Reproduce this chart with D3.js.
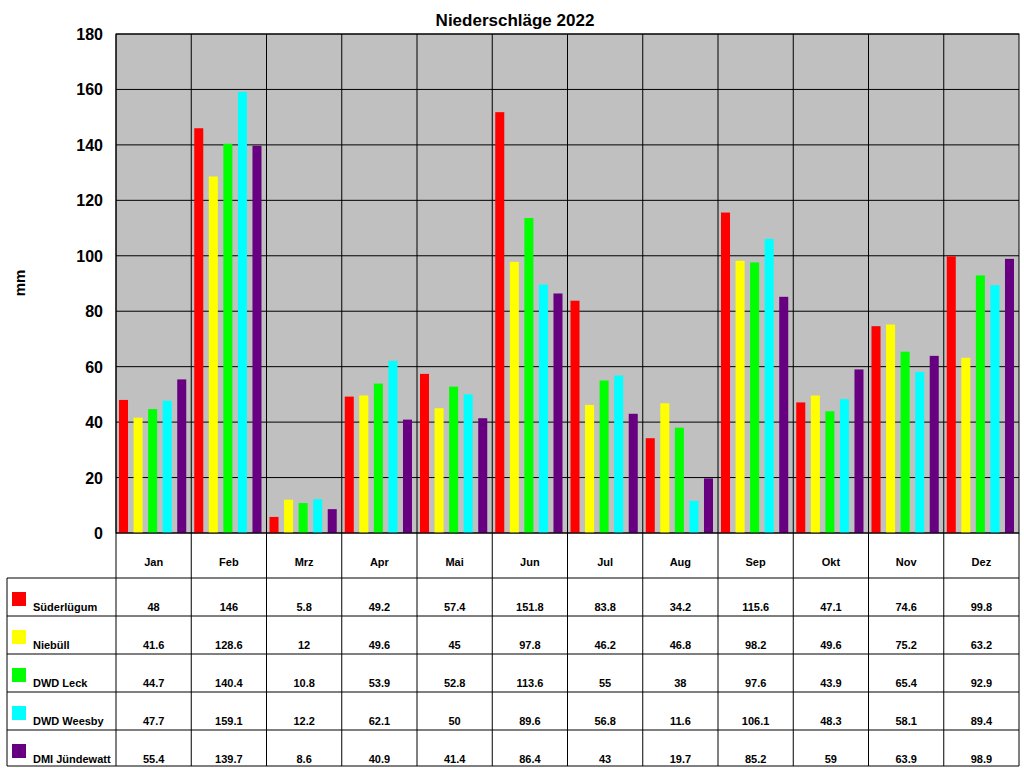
<!DOCTYPE html>
<html><head><meta charset="utf-8">
<script src="https://cdn.jsdelivr.net/npm/d3@7"></script>
<style>body{margin:0;background:#fff;font-family:Arial,"Liberation Sans",sans-serif}</style>
</head><body>
<script>
// data
var months = ['Jan','Feb','Mrz','Apr','Mai','Jun','Jul','Aug','Sep','Okt','Nov','Dez'];
var seriesNames = ['Süderlügum','Niebüll','DWD Leck','DWD Weesby','DMI Jündewatt'];
var seriesColors = ['#ff0000','#ffff00','#00ff00','#00ffff','#660080'];
var suederluegum = [48,146,5.8,49.2,57.4,151.8,83.8,34.2,115.6,47.1,74.6,99.8];
var niebuell = [41.6,128.6,12,49.6,45,97.8,46.2,46.8,98.2,49.6,75.2,63.2];
var dwdLeck = [44.7,140.4,10.8,53.9,52.8,113.6,55,38,97.6,43.9,65.4,92.9];
var dwdWeesby = [47.7,159.1,12.2,62.1,50,89.6,56.8,11.6,106.1,48.3,58.1,89.4];
var dmiJuendewatt = [55.4,139.7,8.6,40.9,41.4,86.4,43,19.7,85.2,59,63.9,98.9];
var yTicks = [0,20,40,60,80,100,120,140,160,180];
var allSeries = [suederluegum, niebuell, dwdLeck, dwdWeesby, dmiJuendewatt];

(function () {
var svg = d3.select('body').append('svg').attr('width',1024).attr('height',768);
var pLeft = 116, pRight = 1019, pTop = 34, pBottom = 533;

var x = d3.scaleBand().domain(months).range([pLeft,pRight]);
var y = d3.scaleLinear().domain([0,180]).range([pBottom,pTop]);
var xs = d3.scaleBand().domain(d3.range(5)).range([3,x.bandwidth()-5]).paddingInner(0.38);

svg.append('rect').attr('x',pLeft).attr('y',pTop).attr('width',pRight-pLeft).attr('height',pBottom-pTop).attr('fill','#c0c0c0');

svg.selectAll('.grid').data(yTicks).enter().append('line')
    .attr('x1',pLeft).attr('x2',pRight)
    .attr('y1',function (d) { return y(d); }).attr('y2',function (d) { return y(d); })
    .attr('stroke','#000').attr('stroke-width',1);
svg.selectAll('.vgrid').data(months).enter().append('line')
    .attr('x1',function (d) { return x(d); }).attr('x2',function (d) { return x(d); })
    .attr('y1',pTop).attr('y2',pBottom).attr('stroke','#000');

allSeries.forEach(function (vals, s) {
    svg.selectAll('.bar'+s).data(vals).enter().append('rect')
        .attr('x',function (d,i) { return x(months[i]) + xs(s); })
        .attr('width',xs.bandwidth())
        .attr('y',function (d) { return y(d); })
        .attr('height',function (d) { return pBottom - y(d); })
        .attr('fill',seriesColors[s]);
});

svg.append('rect').attr('x',pLeft).attr('y',pTop).attr('width',pRight-pLeft).attr('height',pBottom-pTop)
    .attr('fill','none').attr('stroke','#000');

svg.selectAll('.ytick').data(yTicks).enter().append('text')
    .attr('x',103).attr('y',function (d) { return y(d) + 6; })
    .attr('text-anchor','end').attr('font-size',16).attr('font-weight','bold').text(function (d) { return d; });

svg.append('text').attr('transform','translate(25,283) rotate(-90)').attr('text-anchor','middle')
    .attr('font-size',15).attr('font-weight','bold').text('mm');
svg.append('text').attr('x',515).attr('y',26).attr('text-anchor','middle')
    .attr('font-size',17).attr('font-weight','bold').text('Niederschläge 2022');

// table
var rowTop = [578,616,654,692,730], tblBottom = 766;
svg.selectAll('.hdr').data(months).enter().append('text')
    .attr('x',function (d) { return x(d) + x.bandwidth()/2; }).attr('y',566)
    .attr('text-anchor','middle').attr('font-size',11).attr('font-weight','bold').text(function (d) { return d; });

var g = svg.append('g').attr('stroke','#000').attr('stroke-width',1);
g.append('line').attr('x1',pRight).attr('x2',pRight).attr('y1',pBottom).attr('y2',tblBottom);
g.append('line').attr('x1',7).attr('x2',7).attr('y1',578).attr('y2',tblBottom);
months.forEach(function (m) {
    g.append('line').attr('x1',x(m)).attr('x2',x(m)).attr('y1',pBottom).attr('y2',tblBottom);
});
rowTop.concat([tblBottom]).forEach(function (ry) {
    g.append('line').attr('x1',7).attr('x2',pRight).attr('y1',ry).attr('y2',ry);
});

allSeries.forEach(function (vals, s) {
    var ry = rowTop[s];
    svg.append('rect').attr('x',12).attr('y',ry+14).attr('width',14).attr('height',14).attr('fill',seriesColors[s]);
    svg.append('text').attr('x',33).attr('y',ry+33).attr('font-size',11).attr('font-weight','bold').text(seriesNames[s]);
    svg.selectAll('.val'+s).data(vals).enter().append('text')
        .attr('x',function (d,i) { return x(months[i]) + x.bandwidth()/2; }).attr('y',ry+33)
        .attr('text-anchor','middle').attr('font-size',11).attr('font-weight','bold').text(function (d) { return d; });
});
})();
</script>
</body></html>
